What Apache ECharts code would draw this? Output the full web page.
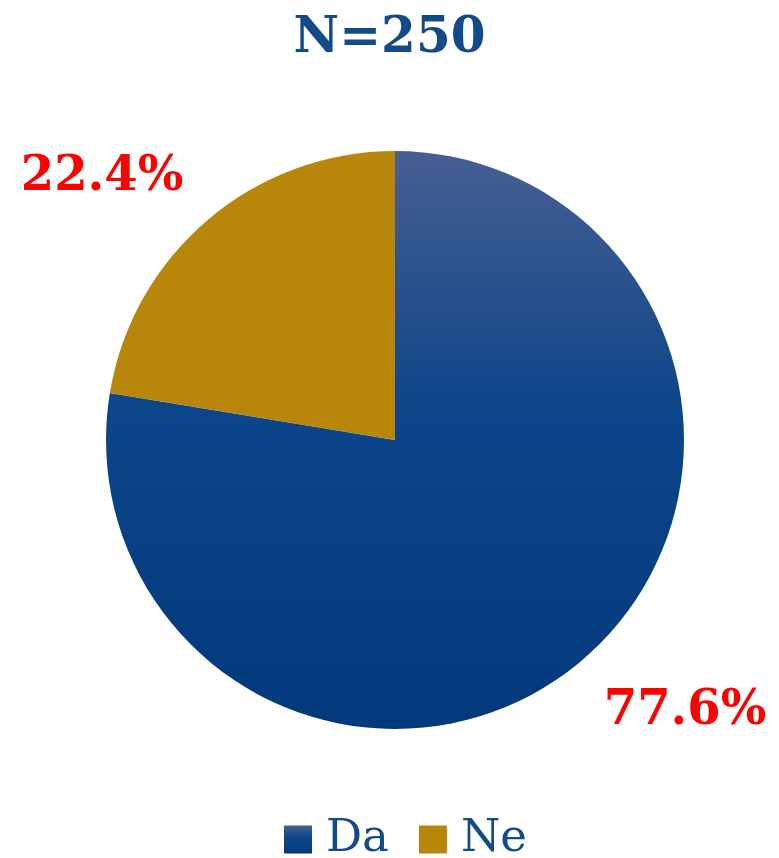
<!DOCTYPE html>
<html>
<head>
<meta charset="utf-8">
<script src="https://cdn.jsdelivr.net/npm/echarts@6/dist/echarts.min.js"></script>
<style>
  html, body { margin: 0; padding: 0; background: #fff; }
  #chart { width: 779px; height: 858px; }
</style>
</head>
<body>
<div id="chart"></div>
<script>
// podaci
var categories = ['Da', 'Ne'];
var values = [77.6, 22.4];
var titleText = 'N=250';

var serif = '"DejaVu Serif", "Liberation Serif", serif';
var chart = echarts.init(document.getElementById('chart'));

var daColor = new echarts.graphic.LinearGradient(0, 0, 0, 1, [
  { offset: 0, color: '#475f92' },
  { offset: 0.45, color: '#0c4589' },
  { offset: 1, color: '#02397c' }
]);
var colors = [daColor, '#b8860b'];

// ručno postavljene pozicije oznaka
var labelPos = [[685, 712], [102, 178]];

chart.setOption({
  animation: false,
  title: {
    text: titleText,
    left: 'center',
    top: 9,
    textStyle: { fontFamily: serif, fontWeight: 'bold', fontSize: 50, color: '#134a8a' }
  },
  legend: {
    top: 812,
    left: 279,
    icon: 'rect',
    itemWidth: 28,
    itemHeight: 28,
    itemGap: 30,
    data: categories,
    textStyle: { fontFamily: serif, fontSize: 45, color: '#134a8a', padding: [0, 0, 0, 9] }
  },
  series: [{
    type: 'pie',
    center: [395, 440],
    radius: 289,
    startAngle: 90,
    clockwise: true,
    label: {
      show: true,
      position: 'outside',
      overflow: 'none',
      formatter: function (p) { return p.value.toFixed(1) + '%'; },
      fontFamily: serif,
      fontWeight: 'bold',
      fontSize: 48,
      color: '#ff0000'
    },
    labelLine: { show: false },
    labelLayout: function (params) {
      var p = labelPos[params.dataIndex];
      return { x: p[0], y: p[1], align: 'center', verticalAlign: 'middle' };
    },
    emphasis: { disabled: true },
    data: categories.map(function (c, i) {
      return { name: c, value: values[i], itemStyle: { color: colors[i] } };
    })
  }]
});

window.addEventListener('resize', function () { chart.resize(); });
</script>
</body>
</html>
